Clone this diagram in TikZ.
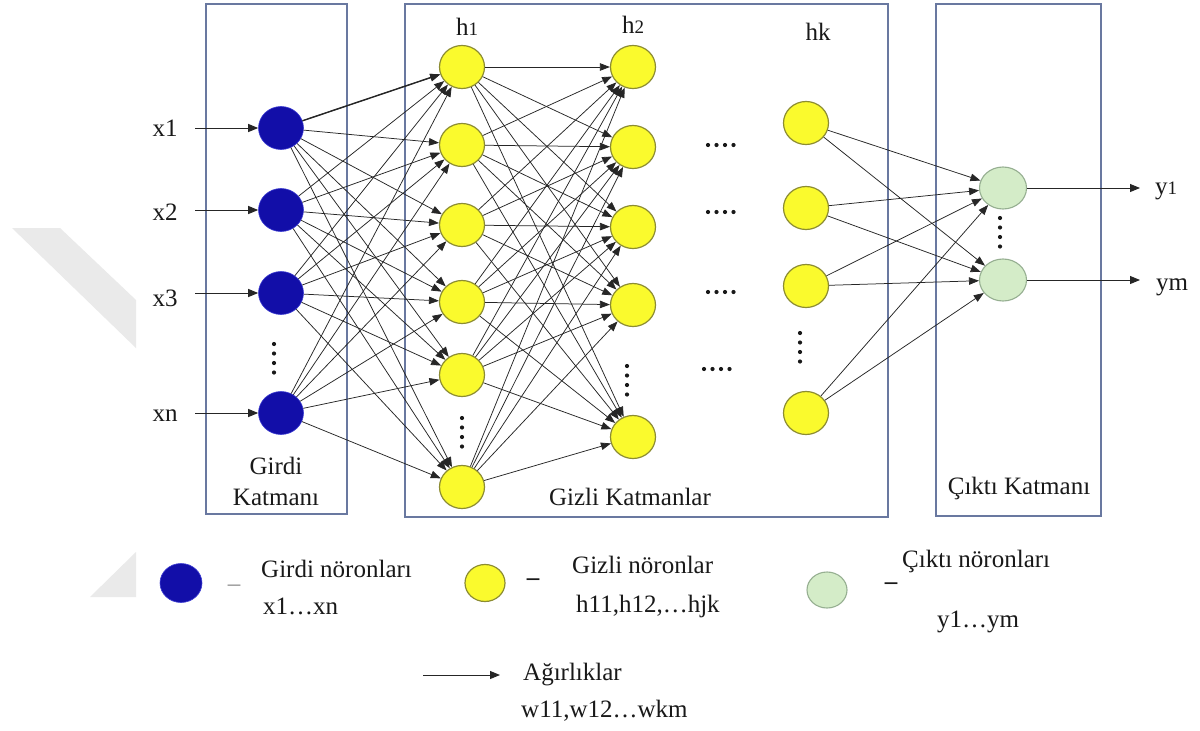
\documentclass[tikz,border=0pt]{standalone}
\usepackage{fontspec}
\setmainfont{Liberation Serif}
\usetikzlibrary{shapes.geometric,arrows.meta}

\definecolor{inblue}{RGB}{18,14,168}
\definecolor{inblueedge}{RGB}{60,60,210}
\definecolor{hidyel}{RGB}{250,250,45}
\definecolor{hidedge}{RGB}{140,140,50}
\definecolor{outgreen}{RGB}{212,236,200}
\definecolor{outedge}{RGB}{150,175,145}
\definecolor{framecol}{RGB}{105,120,160}
\definecolor{wmgray}{RGB}{234,234,234}
\definecolor{inkcol}{RGB}{25,25,25}

% smaller digit after a letter (h1, h2, y1)
\newcommand\smalldig[1]{{\fontsize{19}{19}\selectfont #1}}
% four dots in a column / in a row
\newcommand\vdotcol[2]{\foreach \k in {0,1,2,3} \fill[inkcol] (#1,#2+\k*9.5) circle (2.1pt);}
\newcommand\hdotrow[2]{\foreach \k in {0,1,2,3} \fill[inkcol] (#1+\k*8.5,#2) circle (2.1pt);}

\begin{document}
\begin{tikzpicture}[x=1pt,y=-1pt,
  every node/.style={font=\rmfamily\fontsize{25}{28}\selectfont, text=inkcol, inner sep=0pt},
  neuron/.style={ellipse, minimum width=45pt, minimum height=43pt, inner sep=0pt},
  inneuron/.style={neuron, fill=inblue, draw=inblueedge, line width=0.6pt},
  hidneuron/.style={neuron, fill=hidyel, draw=hidedge, line width=1.2pt},
  outneuron/.style={neuron, minimum width=47pt, minimum height=42pt, fill=outgreen, draw=outedge, line width=1.1pt},
  layerbox/.style={draw=framecol, line width=1.3pt},
  wire/.style={draw=black!85, line width=0.75pt, -{Triangle[length=10pt,width=7.5pt]}},
  iowire/.style={draw=black!85, line width=1pt, -{Triangle[length=10pt,width=8pt]}},
]
\useasboundingbox (0,0) rectangle (1200,731);
\fill[white] (0,0) rectangle (1200,731);

% faint background chevron
\fill[wmgray] (12,228) -- (60,228) -- (136,300) -- (136,348) -- cycle;
\fill[wmgray] (136,552) -- (136,597) -- (90,597) -- cycle;

% layer frames
\draw[layerbox] (206,4) rectangle (347,514);
\draw[layerbox] (405,4) rectangle (888,517);
\draw[layerbox] (936,4) rectangle (1101,516);

% neurons
\foreach \n/\y in {1/128,2/210,3/293,4/413}
  \node[inneuron] (i\n) at (281,\y) {};
\foreach \n/\y in {1/67,2/145,3/225,4/302,5/375,6/487}
  \node[hidneuron] (a\n) at (462,\y) {};
\foreach \n/\y in {1/67,2/147,3/227,4/305,5/437}
  \node[hidneuron] (b\n) at (633,\y) {};
\foreach \n/\y in {1/123,2/208,3/286,4/413}
  \node[hidneuron] (c\n) at (806,\y) {};
\node[outneuron] (o1) at (1003,188) {};
\node[outneuron] (o2) at (1003,280) {};

% weights
\foreach \i in {1,...,4}
  \foreach \j in {1,...,6}
    \draw[wire] (i\i) -- (a\j);
\draw[wire, line width=1.4pt] (i1) -- (a1);
\foreach \i in {1,...,6}
  \foreach \j in {1,...,5}
    \draw[wire] (a\i) -- (b\j);
\foreach \i in {1,...,4}
  \foreach \j in {1,2}
    \draw[wire] (c\i) -- (o\j);

% inputs
\foreach \n/\y/\ly/\t in {1/128/128/x1,2/210/212/x2,3/293/298/x3,4/413/416/xn}{
  \node (lx\n) at (165,\ly) {\t};
  \coordinate (sx\n) at (195,\y);
  \draw[iowire] (sx\n) -- (i\n);
}

% outputs
\coordinate (ey1) at (1140,188);
\coordinate (ey2) at (1140,280);
\draw[iowire] (o1) -- (ey1);
\draw[iowire] (o2) -- (ey2);
\node (ly1) at (1166,191) {y\smalldig{1}};
\node (ly2) at (1172,287) {ym};

% column titles
\node (th1) at (467,27) {h\smalldig{1}};
\node (th2) at (633,25) {h\smalldig{2}};
\node (thk) at (818,32) {hk};

% elided neurons
\vdotcol{274}{344}
\vdotcol{462}{418}
\vdotcol{627}{366}
\vdotcol{800}{333}
\vdotcol{1000}{218}
\hdotrow{708}{145}
\hdotrow{708}{212}
\hdotrow{708}{292}
\hdotrow{704}{369}

% layer names
\node (tg1) at (276,466) {Girdi};
\node (tg2) at (276,497) {Katmanı};
\node (tgz) at (630,497) {Gizli Katmanlar};
\node (tco) at (1019,488) {Çıktı Katmanı};

% legend
\node[inneuron, minimum width=42pt, minimum height=39pt] (lgi) at (181,583) {};
\node[text=black!45] (lgid) at (234,588) {–};
\node[anchor=west] (lgit1) at (261,569) {Girdi nöronları};
\node[anchor=west] (lgit2) at (263,606) {x1…xn};

\node[hidneuron, minimum width=40pt, minimum height=37pt] (lgh) at (485,583) {};
\node[font=\rmfamily\bfseries\fontsize{25}{28}\selectfont] (lghd) at (533,582) {–};
\node[anchor=west] (lght1) at (572,565) {Gizli nöronlar};
\node[anchor=west] (lght2) at (576,606) {h11,h12,…hjk};

\node[outneuron, minimum width=40pt, minimum height=36pt] (lgo) at (827,590) {};
\node[font=\rmfamily\bfseries\fontsize{25}{28}\selectfont] (lgod) at (891,586) {–};
\node[anchor=west] (lgot1) at (902,561) {Çıktı nöronları};
\node[anchor=west] (lgot2) at (937,622) {y1…ym};

\coordinate (wa) at (423,675);
\coordinate (wb) at (500,675);
\draw[iowire] (wa) -- (wb);
\node[anchor=west] (lgw1) at (523,675) {Ağırlıklar};
\node[anchor=west] (lgw2) at (521,711) {w11,w12…wkm};
\end{tikzpicture}
\end{document}
